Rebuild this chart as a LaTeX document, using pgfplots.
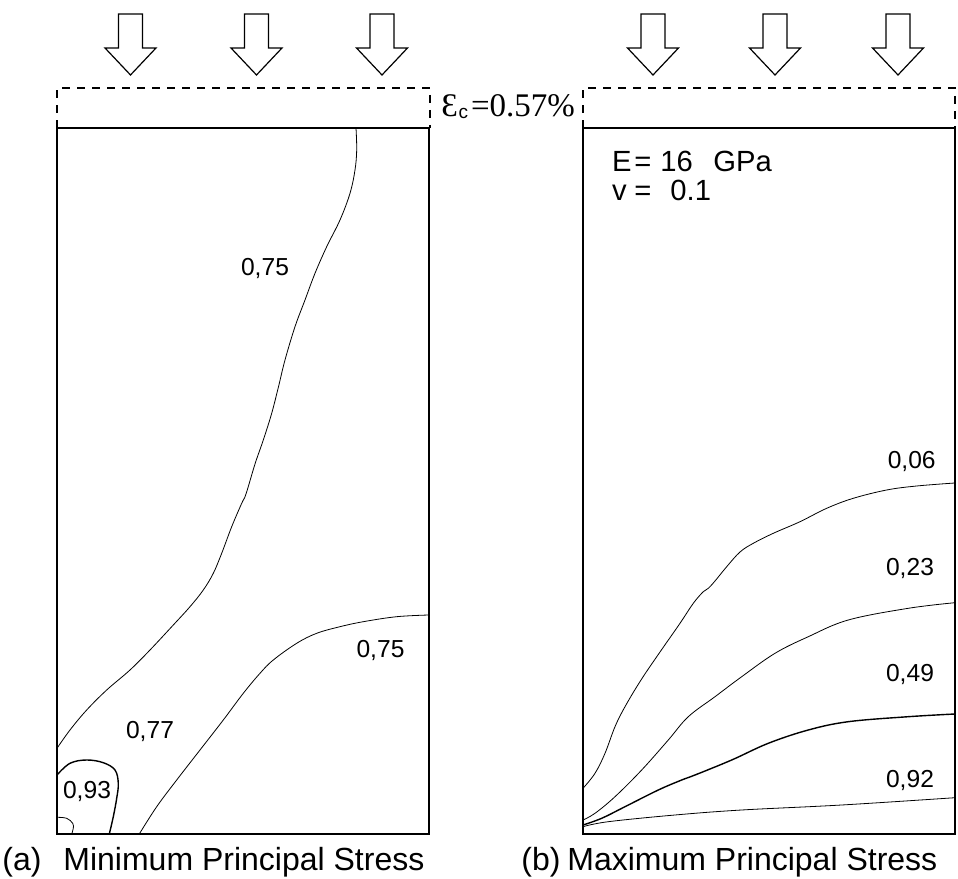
\documentclass[border=0pt]{standalone}
\usepackage{pgfplots}
\pgfplotsset{compat=1.18}
\usepackage{fontspec}
\setmainfont{Liberation Sans}
\newfontfamily\serif{Liberation Serif}
\newfontfamily\sans{Liberation Sans}
\tikzset{lab/.style={font=\fontsize{12.3}{13}\selectfont, inner sep=0pt}}
\begin{document}
\begin{tikzpicture}[x=0.5pt,y=0.5pt]
\useasboundingbox (0,0) rectangle (958,878);
\pgfplotsset{panel/.style={at={(#1,44)}, anchor=south west, scale only axis,
  width=186pt, height=353pt, xmin=0, xmax=372, ymin=0, ymax=706,
  xtick=\empty, ytick=\empty, axis line style={line width=0.85pt},
  cycle list={{black, mark=none, line width=0.7pt}},
  every axis plot/.append style={smooth, tension=0.6}}}
% ---------------- (a) Minimum principal stress ----------------
\begin{axis}[panel=57]
\addplot coordinates {(299,706) (299.7,684) (298,664) (293,640.7) (283,614) (269.7,587.3)
 (258,560.7) (248,534) (238,507.3) (228,474) (221.5,447.3) (214.7,420.7) (206.3,394)
 (198,370) (189,340) (184.7,330.7) (174.7,307.3) (164.7,280.7) (156.3,260.7)
 (146.3,244) (133,227.3) (116.3,209) (93,184) (73,164) (49.7,144) (29.7,124) (13,104) (0,85.7)};
\addplot coordinates {(372,219) (339.7,217.3) (306.3,212.3) (283,207.3) (259.7,200.7)
 (239.7,190.7) (216.3,174) (203,160.7) (186.3,140.7) (166.3,114) (143,84) (119.7,54)
 (99.7,27.3) (82.3,0)};
\addplot coordinates {(0,59) (13,70.7) (29.7,74) (46.3,71.3) (58,64) (61.3,50.7)
 (59.7,35.7) (56.3,17.3) (52.3,0)};
\addplot coordinates {(0,16.7) (9.7,15.7) (15.7,10.7) (16.3,5.7) (14.7,0)};
\node[lab] at (axis cs:208,566) {0,75};
\node[lab] at (axis cs:323.5,184) {0,75};
\node[lab] at (axis cs:93,102.5) {0,77};
\node[lab] at (axis cs:30,42.5) {0,93};
\end{axis}
% ---------------- (b) Maximum principal stress ----------------
\begin{axis}[panel=583]
\addplot coordinates {(372,351) (333.7,348) (303.7,344) (270.3,335.7) (243.7,325.7)
 (217,312.3) (190.3,300.7) (170.3,290.7) (157,282) (143.7,267.3) (132,253) (125.3,245.7)
 (120.3,242.3) (110.3,230.7) (97,210.7) (77,182) (58,154) (42,127.3) (32,107.3)
 (22,80.7) (12,60.7) (0,45.7)};
\addplot coordinates {(372,231.3) (325.3,225.7) (265.3,214) (225.3,197.3) (192,180.7)
 (158.7,157.3) (132,137.3) (105.3,117.3) (85.3,94) (58.7,64) (32,37.3) (12,20.7) (0,14)};
\addplot coordinates {(372,120) (325.3,117.3) (265.3,112.3) (225.3,104) (185.3,90.7)
 (148.7,74) (112,59) (98.7,54) (75.3,44) (42,27.3) (18.7,15.7) (0,9)};
\addplot coordinates {(372,36.3) (258.7,29) (158.7,24) (92,19) (25.3,12.3) (0,7.3)};
\node[lab] at (axis cs:328.7,372.3) {0,06};
\node[lab] at (axis cs:327,266) {0,23};
\node[lab] at (axis cs:327,160) {0,49};
\node[lab] at (axis cs:327,54) {0,92};
\end{axis}
% ---------------- loading platens and arrows ----------------
\begin{scope}[line width=0.6pt, dash pattern=on 4pt off 3.5pt]
\draw (57,750) -- (57,790) -- (430,790) -- (430,750);
\draw (583,750) -- (583,790) -- (955,790) -- (955,750);
\end{scope}
\foreach \cx in {130.5,256.5,382,653,775,898}{
  \draw[line width=0.6pt] (\cx-12,864) -- (\cx+12,864) -- (\cx+12,830) -- (\cx+25.5,830)
   -- (\cx,803) -- (\cx-25.5,830) -- (\cx-12,830) -- cycle;}
\node[anchor=base west, inner sep=0pt] at (441,761)
  {\serif\fontsize{16.5}{16}\selectfont Ɛ\kern0.3pt\raisebox{-0.8pt}{\sans\fontsize{9.5}{10}\selectfont c}\kern1.5pt=0.57\%};
% material parameters
\begin{scope}[every node/.style={anchor=base west, inner sep=0pt, font=\fontsize{14.6}{15}\selectfont}]
\node at (611.7,706) {E};
\node at (634,706) {=};
\node at (660,706) {16};
\node at (713,706) {GPa};
\node at (611.7,677) {v};
\node at (634,677) {=};
\node at (670,677) {0.1};
\end{scope}
% captions
\begin{scope}[every node/.style={anchor=base west, inner sep=0pt, font=\fontsize{16}{16}\selectfont}]
\node at (2,8) {(a)};
\node at (63,8) {Minimum Principal Stress};
\node at (521,8) {(b)};
\node at (567,8) {Maximum Principal Stress};
\end{scope}
\end{tikzpicture}
\end{document}
